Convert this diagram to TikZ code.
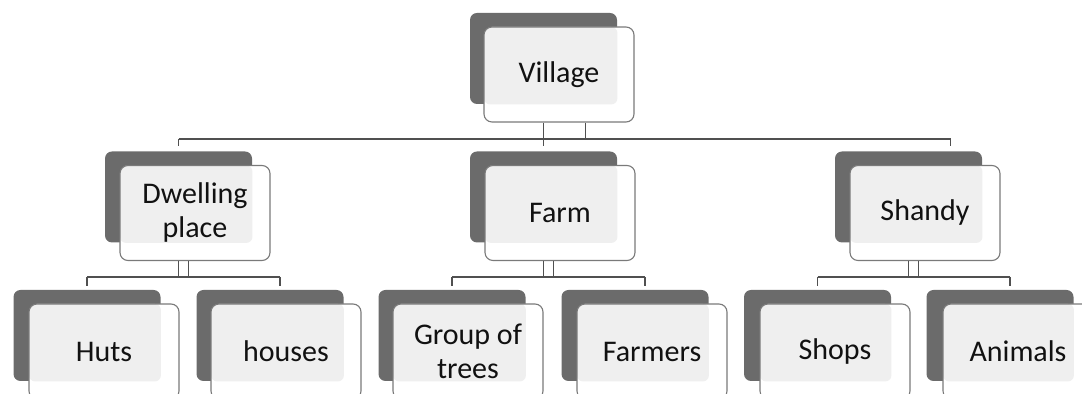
\documentclass[tikz,border=0pt]{standalone}
\usepackage{fontspec}
\setmainfont{Carlito}
\usepackage{xcolor}
\usetikzlibrary{positioning,calc}

\definecolor{backgray}{HTML}{6B6B6B}
\definecolor{lightfill}{HTML}{EFEFEF}
\definecolor{edgegray}{HTML}{7A7A7A}
\definecolor{linkgray}{HTML}{505050}
\definecolor{textgray}{HTML}{111111}

\begin{document}
\begin{tikzpicture}[x=0.5pt, y=-0.5pt,
  backbox/.style={fill=backgray, rounded corners=3.5pt, minimum width=73.5pt, minimum height=45.5pt, inner sep=0pt},
  frontbox/.style={draw=edgegray, line width=0.55pt, fill=white, rounded corners=4pt,
    minimum width=75pt, minimum height=47.5pt, inner sep=0pt, align=center, text=textgray,
    font=\fontsize{15}{17}\selectfont,
    path picture={\fill[lightfill, rounded corners=3pt] (path picture bounding box.north west) rectangle (#1.south east);}},
  link/.style={draw=linkgray, line width=0.8pt}]
\useasboundingbox (0,0) rectangle (1082,394);

% top
\node[backbox] (villageB) at (543.5,58.5) {};
\node[frontbox=villageB] (village) at (559,74.5) {Village};

% second row
\node[backbox] (dwellingB) at (178.5,197) {};
\node[frontbox=dwellingB] (dwelling) at (195,213) {Dwelling\\place};
\node[backbox] (farmB) at (543.5,197) {};
\node[frontbox=farmB] (farm) at (560,213) {Farm};
\node[backbox] (shandyB) at (908.5,197) {};
\node[frontbox=shandyB] (shandy) at (925,213) {Shandy};

% third row
\node[backbox] (hutsB) at (87,335.5) {};
\node[frontbox=hutsB] (huts) at (104,351.5) {Huts};
\node[backbox] (housesB) at (270,335.5) {};
\node[frontbox=housesB] (houses) at (286,351.5) {houses};
\node[backbox] (treesB) at (452,335.5) {};
\node[frontbox=treesB] (trees) at (468,351.5) {Group of\\trees};
\node[backbox] (farmersB) at (635,335.5) {};
\node[frontbox=farmersB] (farmers) at (652,351.5) {Farmers};
\node[backbox] (shopsB) at (817.5,335.5) {};
\node[frontbox=shopsB] (shops) at (835,351.5) {Shops};
\node[backbox] (animalsB) at (1000,335.5) {};
\node[frontbox=animalsB] (animals) at (1018,351.5) {Animals};

% bars
\coordinate (bartop) at (0,139);
\coordinate (barlow) at (0,277);

% village to second row
\draw[link] (villageB.south |- village.south) -- (villageB.south |- bartop);
\draw[link] ($(villageB.south |- village.south)+(42,0)$) -- ($(villageB.south |- bartop)+(42,0)$);
\draw[link] (dwellingB.north |- bartop) -- ($(shandyB.north |- bartop)+(42,0)$);
\draw[link] (dwellingB.north |- bartop) -- ($(dwellingB.north)+(0,-5)$);
\draw[link] (farmB.north |- bartop) -- ($(farmB.north)+(0,-5)$);
\draw[link] ($(shandyB.north |- bartop)+(42,0)$) -- ($(shandyB.north)+(42,-5)$);

% dwelling place
\draw[link] (dwellingB.south |- dwelling.south) -- (dwellingB.south |- barlow);
\draw[link] ($(dwellingB.south |- dwelling.south)+(10,0)$) -- ($(dwellingB.south |- barlow)+(10,0)$);
\draw[link] (hutsB.north |- barlow) -- ($(housesB.north |- barlow)+(10,0)$);
\draw[link] (hutsB.north |- barlow) -- ($(hutsB.north)+(0,-4)$);
\draw[link] ($(housesB.north |- barlow)+(10,0)$) -- ($(housesB.north)+(10,-4)$);

% farm
\draw[link] (farmB.south |- farm.south) -- (farmB.south |- barlow);
\draw[link] ($(farmB.south |- farm.south)+(10,0)$) -- ($(farmB.south |- barlow)+(10,0)$);
\draw[link] (treesB.north |- barlow) -- ($(farmersB.north |- barlow)+(10,0)$);
\draw[link] (treesB.north |- barlow) -- ($(treesB.north)+(0,-4)$);
\draw[link] ($(farmersB.north |- barlow)+(10,0)$) -- ($(farmersB.north)+(10,-4)$);

% shandy
\draw[link] (shandyB.south |- shandy.south) -- (shandyB.south |- barlow);
\draw[link] ($(shandyB.south |- shandy.south)+(10,0)$) -- ($(shandyB.south |- barlow)+(10,0)$);
\draw[link] (shopsB.north |- barlow) -- ($(animalsB.north |- barlow)+(10,0)$);
\draw[link] (shopsB.north |- barlow) -- ($(shopsB.north)+(0,-4)$);
\draw[link] ($(animalsB.north |- barlow)+(10,0)$) -- ($(animalsB.north)+(10,-4)$);
\end{tikzpicture}
\end{document}
